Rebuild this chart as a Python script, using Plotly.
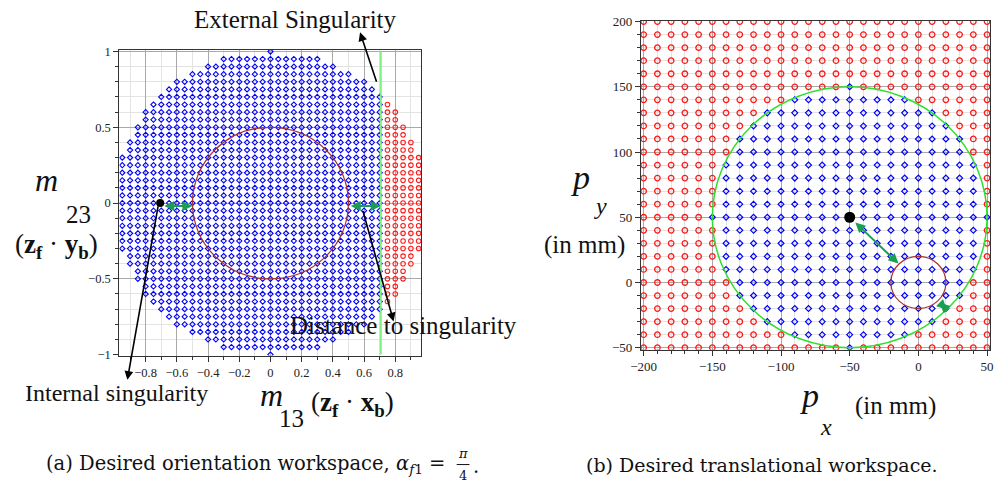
import plotly.graph_objects as go

# ---------------- data ----------------
# (a) orientation workspace: grid step 0.05, half-width (in steps) of each row for |m23| = 0.00 .. 1.00
m_step = 0.05
row_half_steps_a = [20, 19, 19, 19, 19, 19, 19, 18, 18, 17, 17, 16, 16, 15, 14, 13, 12, 10, 8, 6, 0]
external_singularity_m13 = 0.707
internal_singularity = (-0.707, 0.0)
inner_circle_radius_a = 0.5
dist_arrows_a = [(-0.69, -0.5), (0.505, 0.707)]

# (b) translational workspace: grid step 10 mm
px_values = list(range(-200, 51, 10))
py_values = list(range(-50, 201, 10))
ws_center = (-50, 50)
ws_radius = 100
row_half_steps_b = [10, 9, 9, 9, 9, 8, 8, 7, 6, 4, 0]   # for |py-50| = 0..100 step 10
inner_circle_radius_b = 20
dist_arrows_b = [((-47, 47), (-14.5, 14.5)), ((14.5, -14.5), (20.7, -20.7))]

# ---------------- build point sets ----------------
ax_blue, ay_blue, ax_red, ay_red = [], [], [], []
N = len(row_half_steps_a) - 1
for k in range(-N, N + 1):
    y = round(k * m_step, 3)
    n = row_half_steps_a[abs(k)]
    for j in range(-n, n + 1):
        x = round(j * m_step, 3)
        if x > external_singularity_m13:
            ax_red.append(x); ay_red.append(y)
        else:
            ax_blue.append(x); ay_blue.append(y)

bx_blue, by_blue, bx_red, by_red = [], [], [], []
for py in py_values:
    d = abs(py - ws_center[1]) // 10
    half = row_half_steps_b[d] * 10 if d < len(row_half_steps_b) else -1
    for px in px_values:
        if half >= 0 and abs(px - ws_center[0]) <= half:
            bx_blue.append(px); by_blue.append(py)
        else:
            bx_red.append(px); by_red.append(py)

W, H = 999, 491
def P(x, y):
    return x / W, 1 - y / H

SERIF = "Liberation Serif"
BLUE = "#0000ff"
RED = "#ff1a1a"
GREEN_ARROW = "#1a9e52"

fig = go.Figure()
fig.add_trace(go.Scatter(x=ax_blue, y=ay_blue, mode="markers", xaxis="x", yaxis="y",
                         marker=dict(symbol="diamond-open", size=4, color=BLUE, line=dict(width=1.1, color=BLUE)),
                         showlegend=False, hoverinfo="skip"))
fig.add_trace(go.Scatter(x=ax_red, y=ay_red, mode="markers", xaxis="x", yaxis="y",
                         marker=dict(symbol="circle-open", size=4.5, color=RED, line=dict(width=1.1, color=RED)),
                         showlegend=False, hoverinfo="skip"))
fig.add_trace(go.Scatter(x=[internal_singularity[0]], y=[internal_singularity[1]], mode="markers",
                         xaxis="x", yaxis="y", marker=dict(size=8, color="black"),
                         showlegend=False, hoverinfo="skip"))

fig.add_trace(go.Scatter(x=bx_red, y=by_red, mode="markers", xaxis="x2", yaxis="y2",
                         marker=dict(symbol="circle-open", size=5.5, color=RED, line=dict(width=1.3, color=RED)),
                         showlegend=False, hoverinfo="skip"))
fig.add_trace(go.Scatter(x=bx_blue, y=by_blue, mode="markers", xaxis="x2", yaxis="y2",
                         marker=dict(symbol="diamond-open", size=4.5, color=BLUE, line=dict(width=1.2, color=BLUE)),
                         showlegend=False, hoverinfo="skip"))
fig.add_trace(go.Scatter(x=[ws_center[0]], y=[ws_center[1]], mode="markers", xaxis="x2", yaxis="y2",
                         marker=dict(size=11, color="black"), showlegend=False, hoverinfo="skip"))

MAJ = "#a9a9a9"
MIN = "#e3e3e3"
def axis_common(**kw):
    d = dict(showline=True, mirror=True, linecolor="#333333", linewidth=1.3,
             zeroline=False, showgrid=True, gridcolor=MAJ, gridwidth=1,
             ticks="outside", ticklen=5, tickcolor="#333333", tickwidth=1,
             tickfont=dict(family=SERIF, size=13, color="#222222"))
    d.update(kw)
    return d

fig.update_layout(
    width=W, height=H, autosize=False,
    margin=dict(l=0, r=0, t=0, b=0),
    paper_bgcolor="white", plot_bgcolor="white",
    xaxis=axis_common(domain=[110 / W, 416 / W], range=[-0.968, 0.966], anchor="y",
                      tick0=0, dtick=0.2, tickfont=dict(family=SERIF, size=12.5, color="#222222"),
                      minor=dict(dtick=0.1, ticklen=3, tickcolor="#333333", showgrid=True, gridcolor=MIN)),
    yaxis=axis_common(domain=[1 - 358 / H, 1 - 44 / H], range=[-1.006, 1.011], anchor="x",
                      tick0=0, dtick=0.5, tickfont=dict(family=SERIF, size=12.5, color="#222222"),
                      minor=dict(dtick=0.1, ticklen=3, tickcolor="#333333", showgrid=True, gridcolor=MIN)),
    xaxis2=axis_common(domain=[639 / W, 993 / W], range=[-201.9, 52.2], anchor="y2",
                       tick0=0, dtick=50,
                       minor=dict(dtick=10, ticklen=3, tickcolor="#333333", showgrid=True, gridcolor=MIN)),
    yaxis2=axis_common(domain=[1 - 352 / H, 1 - 14 / H], range=[-51.5, 200.7], anchor="x2",
                       tick0=0, dtick=50,
                       minor=dict(dtick=10, ticklen=3, tickcolor="#333333", showgrid=True, gridcolor=MIN)),
)

shapes = [
    dict(type="circle", xref="x", yref="y", x0=-inner_circle_radius_a, x1=inner_circle_radius_a,
         y0=-inner_circle_radius_a, y1=inner_circle_radius_a, line=dict(color="#a83232", width=1.2)),
    dict(type="line", xref="x", yref="y", x0=external_singularity_m13, x1=external_singularity_m13,
         y0=-1, y1=1, line=dict(color="#80f080", width=2)),
    dict(type="circle", xref="x2", yref="y2", x0=ws_center[0] - ws_radius, x1=ws_center[0] + ws_radius,
         y0=ws_center[1] - ws_radius, y1=ws_center[1] + ws_radius, line=dict(color="#2ee02e", width=1.5)),
    dict(type="circle", xref="x2", yref="y2", x0=-inner_circle_radius_b, x1=inner_circle_radius_b,
         y0=-inner_circle_radius_b, y1=inner_circle_radius_b, line=dict(color="#a83232", width=1.2)),
    # fraction bar of pi/4 in caption
    dict(type="line", xref="paper", yref="paper", x0=P(452, 0)[0], x1=P(465, 0)[0],
         y0=P(0, 470)[1], y1=P(0, 470)[1], line=dict(color="#111111", width=1)),
]
fig.update_layout(shapes=shapes)

ann = []
def text(px, py, t, size, italic=False, family=SERIF, xanchor="center", color="#111111"):
    x, y = P(px, py)
    if italic:
        t = "<i>" + t + "</i>"
    ann.append(dict(x=x, y=y, xref="paper", yref="paper", text=t, showarrow=False,
                    xanchor=xanchor, yanchor="middle", font=dict(family=family, size=size, color=color)))

def arrow(tail, head):
    x, y = P(*head)
    ann.append(dict(x=x, y=y, xref="paper", yref="paper", text="", showarrow=True,
                    ax=tail[0] - head[0], ay=tail[1] - head[1], axref="pixel", ayref="pixel",
                    arrowhead=2, arrowsize=1.1, arrowwidth=1.6, arrowcolor="black", standoff=0))

def darrow(xr, yr, p0, p1):
    ann.append(dict(x=p1[0], y=p1[1], xref=xr, yref=yr, ax=p0[0], ay=p0[1], axref=xr, ayref=yr,
                    text="", showarrow=True, arrowside="end+start", arrowhead=2, arrowsize=1,
                    arrowwidth=2, arrowcolor=GREEN_ARROW, standoff=0, startstandoff=0))

# green double arrows
for a0, a1 in dist_arrows_a:
    darrow("x", "y", (a0, -0.02), (a1, -0.02))
for p0, p1 in dist_arrows_b:
    darrow("x2", "y2", p0, p1)

# black annotation arrows + labels (left)
arrow((371, 77), (354, 26))
arrow((149, 208), (118, 383))
arrow((357, 211), (388, 323))
text(289, 13, "External Singularity", 25)
text(107, 397, "Internal singularity", 24)
text(398, 327, "Distance to singularity", 25)

# axis titles (left)
text(36, 178, "m", 32, italic=True)
text(68, 213, "23", 25)
text(46, 245, "(<b>z</b><sub><b>f</b></sub> · <b>y</b><sub><b>b</b></sub>)", 27)
text(264, 399, "m", 32, italic=True)
text(284, 423, "13", 25)
text(346, 408, "(<b>z</b><sub><b>f</b></sub> · <b>x</b><sub><b>b</b></sub>)", 27)

# axis titles (right)
text(578, 175, "p", 34, italic=True)
text(598, 204, "y", 24, italic=True)
text(582, 244, "(in mm)", 25)
text(810, 399, "p", 34, italic=True)
text(827, 431, "x", 24, italic=True)
text(897, 410, "(in mm)", 25)

# captions
CAP = "DejaVu Serif"
text(449, 470, "(a) Desired orientation workspace, <i>α</i><sub><i>f</i>1</sub> = ", 19.5, family=CAP, xanchor="right")
text(458, 459, "<i>π</i>", 13, family=CAP)
text(458, 481, "4", 13, family=CAP)
text(472, 472, ".", 19.5, family=CAP)
text(762, 470, "(b) Desired translational workspace.", 19, family=CAP)

fig.update_layout(annotations=ann)
fig.write_html("out.html", config={"responsive": False, "displayModeBar": False},
               post_script="document.body.style.margin='0';document.body.style.padding='0';")
